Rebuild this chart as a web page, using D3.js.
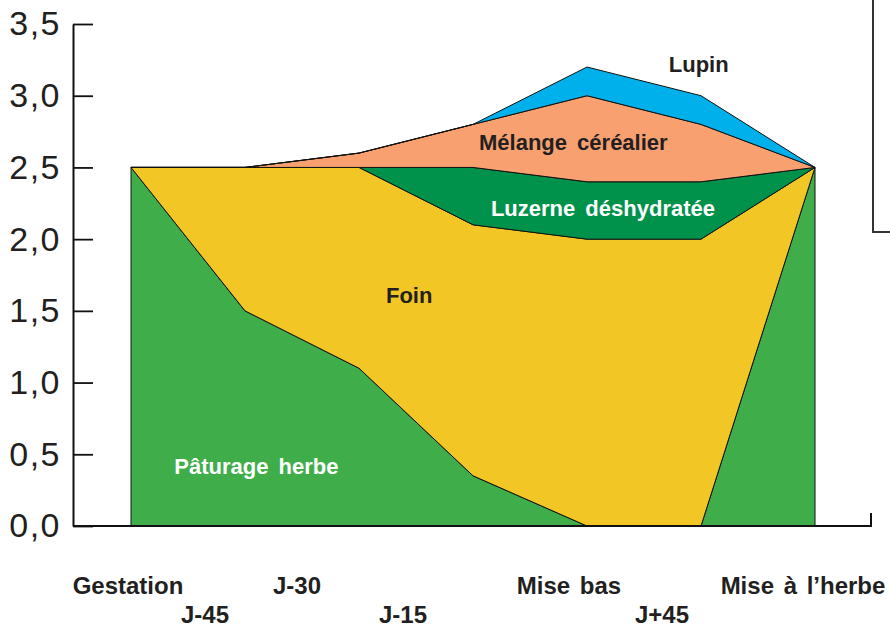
<html>
  <head>
    <script src="https://d3js.org/d3.v7.min.js"></script>
  </head>
  <body style="margin:0;background:#fff;">
    <div id="chart"></div>
    <script>
      // stages along the x axis
      const stages = ["Gestation", "J-45", "J-30", "J-15", "Mise bas", "J+45", "Mise à l\u2019herbe"];
      // amounts per feed (stacked, bottom to top)
      const paturage = [2.5, 1.5, 1.1, 0.35, 0, 0, 2.5];
      const foin     = [0, 1.0, 1.4, 1.75, 2.0, 2.0, 0];
      const luzerne  = [0, 0, 0, 0.4, 0.4, 0.4, 0];
      const melange  = [0, 0, 0.1, 0.3, 0.6, 0.4, 0];
      const lupin    = [0, 0, 0, 0, 0.2, 0.2, 0];
      const seriesNames = ["Pâturage herbe", "Foin", "Luzerne déshydratée", "Mélange céréalier", "Lupin"];
      const yTicks = [0, 0.5, 1, 1.5, 2, 2.5, 3, 3.5];

      const width = 890, height = 628;
      const colors = ["#3fae4a", "#f2c624", "#00924a", "#f8a06f", "#00b0ea"];

      const table = stages.map((s, i) => ({
        i: i,
        "Pâturage herbe": paturage[i],
        "Foin": foin[i],
        "Luzerne déshydratée": luzerne[i],
        "Mélange céréalier": melange[i],
        "Lupin": lupin[i]
      }));

      const x = d3.scaleLinear().domain([0, stages.length - 1]).range([131, 815]);
      const y = d3.scaleLinear().domain([0, 3.5]).range([526, 24]);

      const svg = d3.create("svg")
        .attr("width", width)
        .attr("height", height)
        .style("font-family", "'Liberation Sans', Arial, sans-serif");

      const stacked = d3.stack().keys(seriesNames)(table);
      const area = d3.area()
        .x(d => x(d.data.i))
        .y0(d => y(d[0]))
        .y1(d => y(d[1]));

      svg.append("g")
        .selectAll("path")
        .data(stacked)
        .join("path")
          .attr("d", area)
          .attr("fill", (d, k) => colors[k])
          .attr("stroke", "#111")
          .attr("stroke-width", 1)
          .attr("stroke-linejoin", "round");

      // y axis, ticks pointing inward
      const yAxis = svg.append("g")
        .attr("transform", "translate(73,0)")
        .call(d3.axisLeft(y)
          .tickValues(yTicks)
          .tickFormat(d => d3.format(".1f")(d).replace(".", ","))
          .tickSizeInner(-20)
          .tickSizeOuter(0)
          .tickPadding(12));
      yAxis.select(".domain").attr("stroke", "#111").attr("stroke-width", 2);
      yAxis.selectAll(".tick line").attr("stroke", "#111").attr("stroke-width", 1.8);
      yAxis.selectAll(".tick text")
        .attr("fill", "#231f20")
        .style("font-size", "34px")
        .style("letter-spacing", "1.5px");

      // x axis baseline with the small end tick
      svg.append("path")
        .attr("d", `M73,${y(0)}H871V${y(0) - 13}`)
        .attr("fill", "none")
        .attr("stroke", "#111")
        .attr("stroke-width", 2);

      // stage labels, alternating rows
      const labelShift = [-3, -40, -62, -70, -18, -39, -12];
      svg.append("g")
        .selectAll("text")
        .data(stages)
        .join("text")
          .attr("x", (d, i) => x(i) + labelShift[i])
          .attr("y", (d, i) => i % 2 === 0 ? 594 : 623)
          .attr("text-anchor", "middle")
          .attr("fill", "#231f20")
          .style("font-size", "24px")
          .style("font-weight", "bold")
          .style("word-spacing", "3px")
          .text(d => d);

      // labels inside the areas (anchor in data units)
      const areaLabels = [
        {name: "Pâturage herbe", xi: 1.10, v: 0.36, fill: "#fff"},
        {name: "Foin", xi: 2.44, v: 1.555, fill: "#231f20"},
        {name: "Luzerne déshydratée", xi: 4.14, v: 2.16, fill: "#fff"},
        {name: "Mélange céréalier", xi: 3.88, v: 2.62, fill: "#231f20"},
        {name: "Lupin", xi: 4.98, v: 3.165, fill: "#231f20"}
      ];
      svg.append("g")
        .selectAll("text")
        .data(areaLabels)
        .join("text")
          .attr("x", d => x(d.xi))
          .attr("y", d => y(d.v))
          .attr("text-anchor", "middle")
          .attr("fill", d => d.fill)
          .style("font-size", "22px")
          .style("font-weight", "bold")
          .style("word-spacing", "4px")
          .text(d => d.name);

      // edge of the legend frame, cut off at the right
      svg.append("path")
        .attr("d", "M873,0V232H890")
        .attr("fill", "none")
        .attr("stroke", "#333")
        .attr("stroke-width", 2);

      document.getElementById("chart").appendChild(svg.node());
    </script>
  </body>
</html>
